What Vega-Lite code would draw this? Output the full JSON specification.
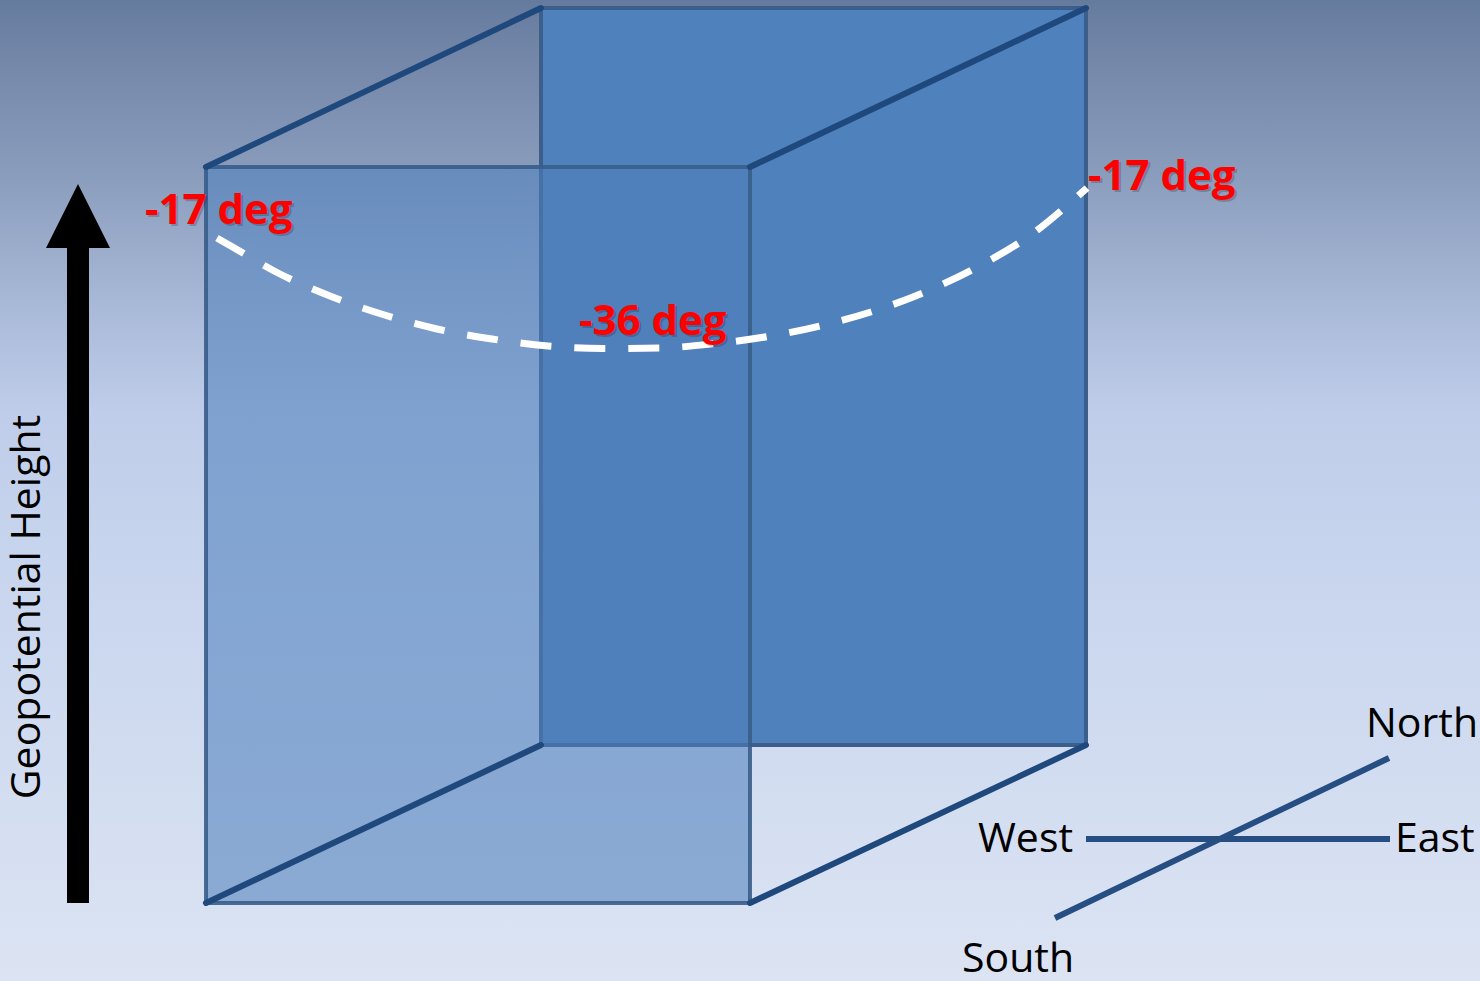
{
  "$schema": "https://vega.github.io/schema/vega-lite/v6.json",
  "width": 1480,
  "height": 981,
  "autosize": {"type": "fit", "contains": "padding"},
  "padding": 0,
  "config": {"view": {"stroke": null}, "font": "Open Sans"},
  "datasets": {
    "bg": [{"x": 0, "x2": 1480, "y": 0, "y2": 981}],
    "back": [{"x": 541, "x2": 1086, "y": 8, "y2": 745}],
    "front": [{"x": 206, "x2": 750, "y": 167, "y2": 903}],
    "diagonals": [
      {"x": 206, "y": 167, "x2": 541, "y2": 8},
      {"x": 750, "y": 167, "x2": 1086, "y2": 8},
      {"x": 206, "y": 903, "x2": 541, "y2": 745},
      {"x": 750, "y": 903, "x2": 1086, "y2": 745}
    ],
    "curve": [
      {"i": 0, "x": 217, "y": 238},
      {"i": 1, "x": 230, "y": 245.5},
      {"i": 2, "x": 279, "y": 273.5},
      {"i": 3, "x": 330, "y": 296},
      {"i": 4, "x": 383, "y": 314.5},
      {"i": 5, "x": 437, "y": 329},
      {"i": 6, "x": 492, "y": 339},
      {"i": 7, "x": 548, "y": 346},
      {"i": 8, "x": 603, "y": 348.5},
      {"i": 9, "x": 660, "y": 348},
      {"i": 10, "x": 716, "y": 343.5},
      {"i": 11, "x": 771, "y": 336},
      {"i": 12, "x": 826, "y": 324.5},
      {"i": 13, "x": 880, "y": 309},
      {"i": 14, "x": 932, "y": 289},
      {"i": 15, "x": 982, "y": 264.5},
      {"i": 16, "x": 1030, "y": 235.5},
      {"i": 17, "x": 1074, "y": 199.5},
      {"i": 18, "x": 1087, "y": 188}
    ],
    "temps": [
      {"x": 145, "y": 224, "label": "-17 deg"},
      {"x": 579, "y": 335, "label": "-36 deg"},
      {"x": 1088, "y": 190, "label": "-17 deg"}
    ],
    "shaft": [{"x": 78, "y": 246, "y2": 903}],
    "head": [{"x": 78, "y": 216}],
    "axislabel": [{"x": 40, "y": 607, "label": "Geopotential Height"}],
    "compassLines": [
      {"x": 1086, "y": 839, "x2": 1390, "y2": 839},
      {"x": 1055, "y": 918, "x2": 1389, "y2": 758}
    ],
    "compassLabels": [
      {"x": 978, "y": 852, "label": "West"},
      {"x": 1395, "y": 852, "label": "East"},
      {"x": 1366, "y": 737, "label": "North"},
      {"x": 962, "y": 972, "label": "South"}
    ]
  },
  "encoding": {
    "x": {"field": "x", "type": "quantitative", "scale": {"domain": [0, 1480], "nice": false, "zero": false}, "axis": null},
    "y": {"field": "y", "type": "quantitative", "scale": {"domain": [0, 981], "reverse": true, "nice": false, "zero": false}, "axis": null}
  },
  "layer": [
    {
      "data": {"name": "bg"},
      "mark": {
        "type": "rect",
        "color": {
          "gradient": "linear", "x1": 0, "y1": 0, "x2": 0, "y2": 1,
          "stops": [
            {"offset": 0, "color": "#657b9e"},
            {"offset": 0.06, "color": "#7487a9"},
            {"offset": 0.18, "color": "#8b9dbd"},
            {"offset": 0.3, "color": "#a6b7d5"},
            {"offset": 0.42, "color": "#bfcdea"},
            {"offset": 0.6, "color": "#c9d6ee"},
            {"offset": 1, "color": "#dce4f3"}
          ]
        }
      },
      "encoding": {"x2": {"field": "x2"}, "y2": {"field": "y2"}}
    },
    {
      "data": {"name": "back"},
      "mark": {"type": "rect", "fill": "#4f81bd", "stroke": "#3b5e8b", "strokeWidth": 4},
      "encoding": {"x2": {"field": "x2"}, "y2": {"field": "y2"}}
    },
    {
      "data": {"name": "front"},
      "mark": {"type": "rect", "fill": "#4f81bd", "fillOpacity": 0.57, "stroke": "#385d8a", "strokeOpacity": 0.9, "strokeWidth": 4},
      "encoding": {"x2": {"field": "x2"}, "y2": {"field": "y2"}}
    },
    {
      "data": {"name": "diagonals"},
      "mark": {"type": "rule", "color": "#1f497d", "strokeWidth": 6, "strokeCap": "round"},
      "encoding": {"x2": {"field": "x2"}, "y2": {"field": "y2"}}
    },
    {
      "data": {"name": "curve"},
      "mark": {"type": "line", "color": "#ffffff", "strokeWidth": 7, "strokeDash": [31, 23], "interpolate": "monotone"},
      "encoding": {"order": {"field": "i", "type": "quantitative"}}
    },
    {
      "data": {"name": "temps"},
      "mark": {"type": "text", "align": "left", "baseline": "alphabetic", "font": "Open Sans", "fontWeight": "bold", "fontSize": 42, "color": "#000000", "opacity": 0.18, "dx": 2, "dy": 2},
      "encoding": {"text": {"field": "label"}}
    },
    {
      "data": {"name": "temps"},
      "mark": {"type": "text", "align": "left", "baseline": "alphabetic", "font": "Open Sans", "fontWeight": "bold", "fontSize": 42, "color": "#ff0000"},
      "encoding": {"text": {"field": "label"}}
    },
    {
      "data": {"name": "shaft"},
      "mark": {"type": "rule", "color": "#000000", "strokeWidth": 22, "strokeCap": "butt"},
      "encoding": {"y2": {"field": "y2"}}
    },
    {
      "data": {"name": "head"},
      "mark": {"type": "point", "shape": "M-1,1L0,-1L1,1Z", "size": 4096, "filled": true, "color": "#000000", "opacity": 1, "strokeWidth": 0}
    },
    {
      "data": {"name": "axislabel"},
      "mark": {"type": "text", "angle": 270, "align": "center", "baseline": "alphabetic", "font": "Open Sans", "fontSize": 41, "color": "#000000"},
      "encoding": {"text": {"field": "label"}}
    },
    {
      "data": {"name": "compassLines"},
      "mark": {"type": "rule", "color": "#264e83", "strokeWidth": 6, "strokeCap": "butt"},
      "encoding": {"x2": {"field": "x2"}, "y2": {"field": "y2"}}
    },
    {
      "data": {"name": "compassLabels"},
      "mark": {"type": "text", "align": "left", "baseline": "alphabetic", "font": "Open Sans", "fontSize": 41, "color": "#000000"},
      "encoding": {"text": {"field": "label"}}
    }
  ]
}
